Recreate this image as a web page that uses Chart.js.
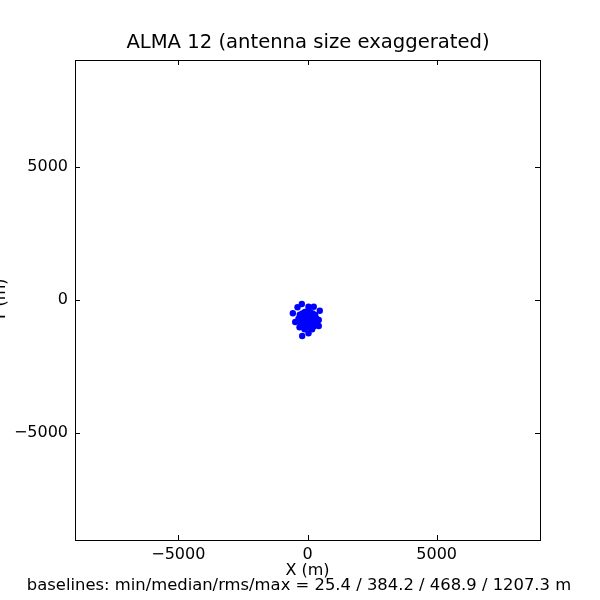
<!DOCTYPE html>
<html>
<head>
<meta charset="utf-8">
<script src="https://cdn.jsdelivr.net/npm/chart.js@4/dist/chart.umd.min.js"></script>
<style>
  body { margin: 0; background: #fff; }
  #wrap { width: 600px; height: 600px; }
</style>
</head>
<body>
<div id="wrap"><canvas id="chart1"></canvas></div>
<script>
// antenna positions (m)
var antX = [-220, -386, 39, 243, -567, 475, -475, 436, -309, 436, -116, 181, 39, -205,
  -300, -200, -100, 0, 100, 200, 300,
  -350, -250, -150, -50, 50, 150, 250, 350,
  -300, -200, -100, 0, 100, 200, 300,
  -250, -150, -50, 50, 150, 250,
  -150, 0, 120, -60, 60, -20, 30, -120];
var antY = [-150, -274, -251, -251, -499, -401, -825, -750, -1024, -975, -1099, -1099, -1249, -1350,
  -550, -500, -450, -420, -450, -500, -560,
  -700, -650, -600, -580, -600, -620, -680, -700,
  -820, -780, -740, -720, -760, -800, -850,
  -950, -900, -880, -900, -930, -980,
  -1020, -1000, -1040, -800, -820, -650, -550, -680];
var tickVals = [-5000, 0, 5000];
var axisMin = -9000, axisMax = 9000;

var titleText = 'ALMA 12 (antenna size exaggerated)';
var xLabel = 'X (m)';
var yLabel = 'Y (m)';
var footText = 'baselines: min/median/rms/max = 25.4 / 384.2 / 468.9 / 1207.3 m';

var points = antX.map(function(x, i) { return {x: x, y: antY[i]}; });

function fmt(v) {
  return v < 0 ? '\u2212' + Math.abs(v) : '' + v;
}

//frame, inward ticks and all the text around the axes
var framePlugin = {
  id: 'frame',
  afterDraw: function(chart) {
    var c = chart.ctx, a = chart.chartArea;
    var sx = chart.scales.x, sy = chart.scales.y;
    c.save();
    c.strokeStyle = '#000';
    c.lineWidth = 1;
    c.strokeRect(a.left + 0.5, a.top + 0.5, a.right - a.left, a.bottom - a.top);
    c.beginPath();
    tickVals.forEach(function(v) {
      var px = Math.round(sx.getPixelForValue(v)) + 0.5;
      c.moveTo(px, a.bottom); c.lineTo(px, a.bottom - 5);
      c.moveTo(px, a.top); c.lineTo(px, a.top + 5);
      var py = Math.round(sy.getPixelForValue(v)) + 0.5;
      c.moveTo(a.left, py); c.lineTo(a.left + 5, py);
      c.moveTo(a.right, py); c.lineTo(a.right - 5, py);
    });
    c.stroke();

    c.fillStyle = '#000';
    c.textAlign = 'center';
    c.textBaseline = 'middle';
    c.font = '19.6px "DejaVu Sans"';
    c.fillText(titleText, 308, 43);
    c.font = '16px "DejaVu Sans"';
    c.fillText(xLabel, (a.left + a.right) / 2, 571);
    c.font = '16.4px "DejaVu Sans"';
    c.fillText(footText, 299, 586);
    c.font = '16px "DejaVu Sans"';
    c.translate(0, (a.top + a.bottom) / 2);
    c.rotate(-Math.PI / 2);
    c.fillText(yLabel, 0, 1);
    c.restore();
  }
};

var ctx = document.getElementById('chart1').getContext('2d');
var myChart = new Chart(ctx, {
  type: 'scatter',
  data: {
    datasets: [{
      data: points,
      backgroundColor: '#0000ff',
      borderColor: '#0000ff',
      borderWidth: 0,
      pointRadius: 3.2
    }]
  },
  options: {
    responsive: true,
    maintainAspectRatio: false,
    animation: false,
    layout: { padding: { left: 0, right: 60, top: 60, bottom: 0 } },
    plugins: {
      legend: { display: false },
      tooltip: { enabled: false },
      title: { display: false }
    },
    scales: {
      x: {
        type: 'linear',
        min: axisMin,
        max: axisMax,
        afterBuildTicks: function(s) { s.ticks = tickVals.map(function(v) { return {value: v}; }); },
        afterFit: function(s) { s.height = 60; },
        grid: { display: false, drawTicks: false },
        border: { display: false },
        ticks: {
          padding: 5,
          color: '#000',
          font: { family: 'DejaVu Sans', size: 16 },
          maxRotation: 0,
          callback: function(v) { return fmt(v); }
        }
      },
      y: {
        type: 'linear',
        min: axisMin,
        max: axisMax,
        afterBuildTicks: function(s) { s.ticks = tickVals.map(function(v) { return {value: v}; }); },
        afterFit: function(s) { s.width = 75; },
        grid: { display: false, drawTicks: false },
        border: { display: false },
        ticks: {
          padding: 7,
          color: '#000',
          font: { family: 'DejaVu Sans', size: 16 },
          callback: function(v) { return fmt(v); }
        }
      }
    }
  },
  plugins: [framePlugin]
});
</script>
</body>
</html>
